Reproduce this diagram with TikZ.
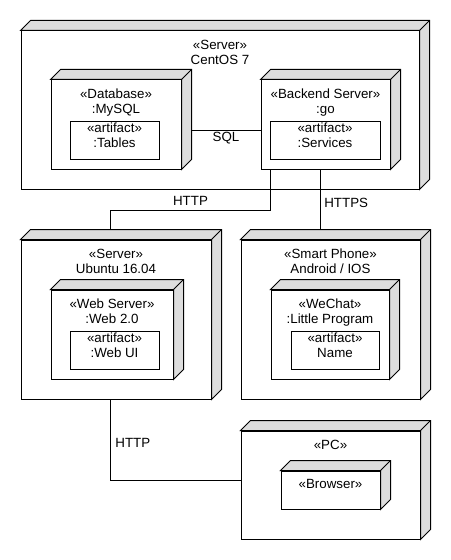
\documentclass[tikz,border=0pt]{standalone}
\usepackage{fontspec}
\setmainfont{Liberation Sans}
\usetikzlibrary{fit}
\definecolor{sidegray}{RGB}{221,221,221}
\begin{document}
\begin{tikzpicture}[x=0.75pt, y=-0.75pt, line width=0.75pt,
  font=\fontsize{10}{11.5}\selectfont,
  devbox/.style={draw, inner sep=0pt, align=center},
  nodetitle/.style={label={[anchor=north, align=center, label distance=-3.2pt]north:#1}},
  sideface/.style={fill=sidegray, draw, line join=miter}]
\useasboundingbox[fill=white] (0,0) rectangle (450,560);
\node[devbox, fit={(21,31) (419,189)}, nodetitle={«Server»\\CentOS 7}] (centos) {};
\node[devbox, fit={(51,80) (181,169)}, nodetitle={«Database»\\:MySQL}] (db) {};
\node[devbox, fit={(70,121) (159,159)}] (tables) {«artifact»\\:Tables};
\node[devbox, fit={(261,80) (390,169)}, nodetitle={«Backend Server»\\:go}] (backend) {};
\node[devbox, fit={(270,121) (380,159)}] (services) {«artifact»\\:Services};
\node[devbox, fit={(21,240) (211,399)}, nodetitle={«Server»\\Ubuntu 16.04}] (ubuntu) {};
\node[devbox, fit={(51,290) (173,379)}, nodetitle={«Web Server»\\:Web 2.0}] (websrv) {};
\node[devbox, fit={(70,331) (159,369)}] (webui) {«artifact»\\:Web UI};
\node[devbox, fit={(241,240) (420,399)}, nodetitle={«Smart Phone»\\Android / IOS}] (phone) {};
\node[devbox, fit={(271,290) (389,379)}, nodetitle={«WeChat»\\:Little Program}] (wechat) {};
\node[devbox, fit={(291,331) (379,369)}] (appname) {«artifact»\\Name};
\node[devbox, fit={(241,431) (420,539)}, nodetitle={«PC»}] (pc) {};
\node[devbox, fit={(281,471) (380,509)}, nodetitle={«Browser»}] (browser) {};
\foreach \n in {centos,db,backend,ubuntu,websrv,phone,wechat,pc,browser}{
  \filldraw[sideface] (\n.north west) -- ++(10,-10) -- ([shift={(10,-10)}]\n.north east)
    -- ([shift={(10,-10)}]\n.south east) -- (\n.south east) -- (\n.north east) -- cycle;
  \draw (\n.north east) -- ++(10,-10);
}
\coordinate (phtop) at ([shift={(0,-10)}]phone.north);
\coordinate (hs) at ([shift={(60,0)}]backend.south west);
\draw ([shift={(10,6)}]db.east) -- node[below, inner sep=1.1pt]{SQL} ([shift={(0,6)}]backend.west);
\draw ([shift={(10,0)}]backend.south west) -- ++(0,41.4) -| node[pos=0.25, above]{HTTP} ([shift={(90,-10)}]ubuntu.north west);
\draw (hs) -- node[pos=0.56, right, inner sep=2.5pt]{HTTPS} (hs |- phtop);
\draw ([shift={(90,0)}]ubuntu.south west) |- node[pos=0.27, right]{HTTP} ([shift={(0,-5)}]pc.west);
\end{tikzpicture}
\end{document}
